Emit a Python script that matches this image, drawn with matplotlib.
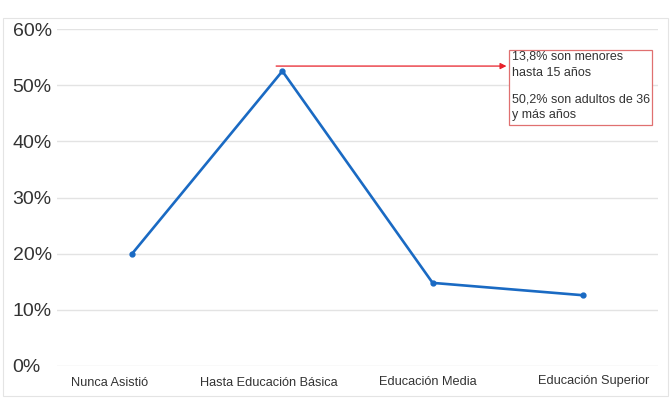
import matplotlib.pyplot as plt
from matplotlib.patches import Rectangle

categories = ['Nunca Asistió', 'Hasta Educación Básica', 'Educación Media', 'Educación Superior']
values = [20.0, 52.5, 14.8, 12.6]
yticks = [0, 10, 20, 30, 40, 50, 60]
note_1 = '13,8% son menores\nhasta 15 años'
note_2 = '50,2% son adultos de 36\ny más años'

plt.rcParams['font.family'] = ['Liberation Sans', 'DejaVu Sans']

fig = plt.figure(figsize=(6.72, 4.03), dpi=100)
W, H = 672, 403
ax = fig.add_axes([57 / W, 1 - 366 / H, (658 - 57) / W, (366 - 29) / H])

# faint chart frame (spreadsheet look)
fig.patches.append(Rectangle((3 / W, 1 - 396 / H), 665 / W, 378 / H, transform=fig.transFigure,
                             fill=False, ec='#e4e4e4', lw=0.8))

x = range(len(categories))
ax.plot(x, values, color='#1a6ac3', lw=1.9, marker='o', ms=3.5, zorder=3)
ax.set_xlim(-0.5, len(categories) - 0.5)
ax.set_ylim(0, 60)

ax.set_yticks(yticks)
ax.set_yticklabels([f'{t}%' for t in yticks], fontsize=14, color='#333333', ha='left')
ax.tick_params(axis='y', length=0, pad=32)
ax.set_xticks([])
ax.grid(axis='y', color='#e3e3e3', lw=1)
for s in ax.spines.values():
    s.set_visible(False)

# category labels, slightly staggered as in the source
label_dx = [-0.15, -0.09, -0.03, 0.07]
label_y = [-2.0, -2.0, -1.8, -1.6]
for i, c in enumerate(categories):
    ax.text(i + label_dx[i], label_y[i], c, ha='center', va='top', fontsize=9.2, color='#333333')

# annotation arrow and note box
ax.annotate('', xy=(2.51, 53.4), xytext=(0.94, 53.4),
            arrowprops=dict(arrowstyle='-|>', color='#e8202a', lw=0.9, mutation_scale=9))
ax.add_patch(Rectangle((2.508, 42.9), 0.952, 13.4, fc='white', ec='#e07070', lw=0.9,
                       clip_on=False, zorder=4))
ax.text(2.53, 56.1, note_1, ha='left', va='top', fontsize=9, color='#333333', linespacing=1.4, zorder=5)
ax.text(2.53, 48.6, note_2, ha='left', va='top', fontsize=9, color='#333333', linespacing=1.4, zorder=5)

fig.savefig('out.png', dpi=100)
